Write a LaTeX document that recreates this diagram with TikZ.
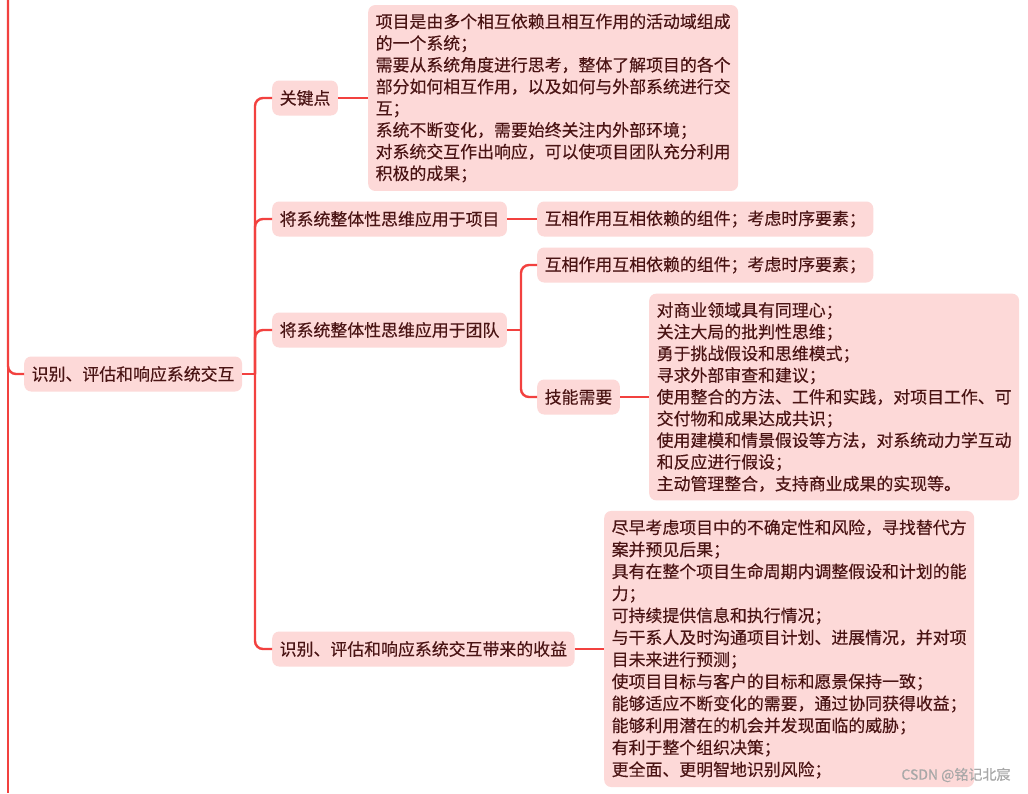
\documentclass[tikz,border=0pt]{standalone}
\usepackage{fontspec}
\newfontfamily\cjk[UprightFeatures={FakeBold=0.35}]{Noto Sans CJK SC}
\definecolor{branch}{HTML}{F2413F}
\definecolor{bubble}{HTML}{FDD9D8}
\definecolor{ink}{HTML}{4A1414}
\definecolor{stamp}{HTML}{A8A8A8}
\begin{document}
\begin{tikzpicture}[x=1pt, y=-1pt, font=\cjk\fontsize{16.9}{21.7}\selectfont, text=ink,
  topic/.style={fill=bubble, rounded corners=7pt, inner xsep=7.5pt, inner ysep=6pt,
    minimum height=35pt, anchor=west},
  notes/.style={topic, align=left, inner ysep=8.5pt},
  link/.style={draw=branch, line width=2.4pt, rounded corners=8pt}]
  \useasboundingbox[fill=white] (0,0) rectangle (1028,793);

  \node[topic] (root) at (24,374) {识别、评估和响应系统交互};

  % first level
  \node[topic] (keys) at (272,98) {关键点};
  \node[topic] (proj) at (272,219) {将系统整体性思维应用于项目};
  \node[topic] (team) at (272,330) {将系统整体性思维应用于团队};
  \node[topic] (gain) at (272,649) {识别、评估和响应系统交互带来的收益};

  % second level
  \node[notes] (keysnote) at (368,98)
    {项目是由多个相互依赖且相互作用的活动域组成\\的一个系统；\\
     需要从系统角度进行思考，整体了解项目的各个\\部分如何相互作用，以及如何与外部系统进行交\\互；\\
     系统不断变化，需要始终关注内外部环境；\\
     对系统交互作出响应，可以使项目团队充分利用\\积极的成果；};
  \node[topic] (projparts) at (537,219) {互相作用互相依赖的组件；考虑时序要素；};
  \node[topic] (teamparts) at (537,265) {互相作用互相依赖的组件；考虑时序要素；};
  \node[topic] (skills) at (537,397) {技能需要};
  \node[notes] (skillsnote) at (649,397)
    {对商业领域具有同理心；\\关注大局的批判性思维；\\勇于挑战假设和思维模式；\\
     寻求外部审查和建议；\\
     使用整合的方法、工件和实践，对项目工作、可\\交付物和成果达成共识；\\
     使用建模和情景假设等方法，对系统动力学互动\\和反应进行假设；\\
     主动管理整合，支持商业成果的实现等。};
  \node[notes, font=\cjk\fontsize{16.9}{22}\selectfont] (gainnote) at (604,649)
    {尽早考虑项目中的不确定性和风险，寻找替代方\\案并预见后果；\\
     具有在整个项目生命周期内调整假设和计划的能\\力；\\
     可持续提供信息和执行情况；\\
     与干系人及时沟通项目计划、进展情况，并对项\\目未来进行预测；\\
     使项目目标与客户的目标和愿景保持一致；\\
     能够适应不断变化的需要，通过协同获得收益；\\
     能够利用潜在的机会并发现面临的威胁；\\
     有利于整个组织决策；\\
     更全面、更明智地识别风险；};

  % connectors
  \coordinate (trunktop) at (8,0);
  \coordinate (trunkend) at (8,793);
  \coordinate (hub) at (255,374);
  \coordinate (teamhub) at (521,330);
  \draw[link] (trunktop) -- (trunkend);
  \draw[link] (trunktop) |- (root.west);
  \draw[link] (root.east) -- (hub);
  \foreach \leaf in {keys,proj,team,gain}
    \draw[link] (hub) |- (\leaf.west);
  \draw[link] (team.east) -- (teamhub);
  \foreach \leaf in {teamparts,skills}
    \draw[link] (teamhub) |- (\leaf.west);
  \draw[link] (keys.east) -- (keysnote.west);
  \draw[link] (proj.east) -- (projparts.west);
  \draw[link] (skills.east) -- (skillsnote.west);
  \draw[link] (gain.east) -- (gainnote.west);

  \node[anchor=east, text=stamp, font=\cjk\fontsize{14}{14}\selectfont] (credit) at (1014,775)
    {CSDN @铭记北宸};
\end{tikzpicture}
\end{document}
